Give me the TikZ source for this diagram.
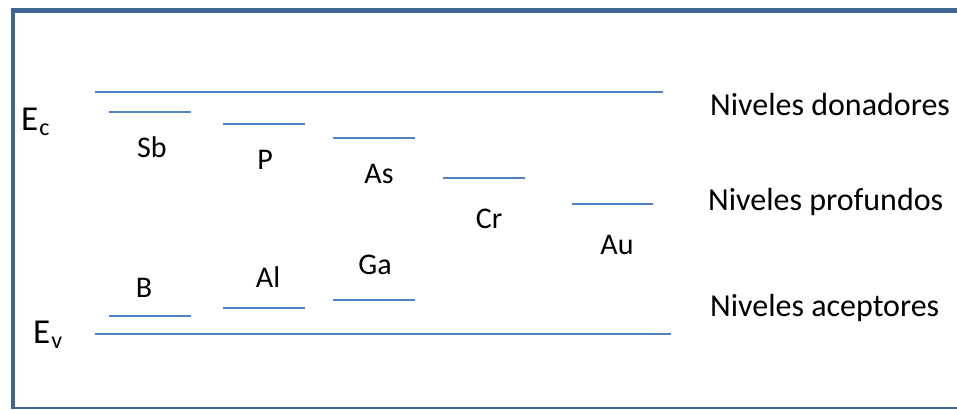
\documentclass[tikz,border=0pt]{standalone}
\usepackage{fontspec}
\setmainfont{Carlito}
\definecolor{framecol}{HTML}{3F6593}
\definecolor{levelcol}{HTML}{4F81C4}
\tikzset{
  levelline/.style={draw=levelcol, line width=2pt},
  elem/.style={anchor=base, inner sep=0pt, font=\fontsize{30}{36}\selectfont},
  side/.style={anchor=base west, inner sep=0pt, font=\fontsize{32}{38}\selectfont},
  band/.style={anchor=base west, inner sep=0pt, font=\fontsize{35}{40}\selectfont},
}
\newcommand{\bandsub}[1]{\hspace{1pt}\raisebox{-5pt}{\fontsize{24}{26}\selectfont #1}}
\begin{document}
\begin{tikzpicture}[x=1pt, y=-1pt]
\useasboundingbox (0,0) rectangle (957,409);
% frame
\draw[framecol, line width=4.5pt] (13,409) -- (13,10.5) -- (957,10.5);
\draw[framecol, line width=2pt] (13,408) -- (957,408);
% band edges
\coordinate (ec1) at (95,92);  \coordinate (ec2) at (663,92);
\coordinate (ev1) at (95,334); \coordinate (ev2) at (671,334);
\draw[levelline] (ec1) -- (ec2);
\draw[levelline] (ev1) -- (ev2);
% donor levels
\coordinate (sb1) at (109,112); \coordinate (sb2) at (191,112);
\coordinate (p1) at (223,124);  \coordinate (p2) at (305,124);
\coordinate (as1) at (333,138); \coordinate (as2) at (415,138);
\draw[levelline] (sb1) -- (sb2);
\draw[levelline] (p1) -- (p2);
\draw[levelline] (as1) -- (as2);
% deep levels
\coordinate (cr1) at (443,178); \coordinate (cr2) at (525,178);
\coordinate (au1) at (572,204); \coordinate (au2) at (653,204);
\draw[levelline] (cr1) -- (cr2);
\draw[levelline] (au1) -- (au2);
% acceptor levels
\coordinate (b1) at (109,316);  \coordinate (b2) at (191,316);
\coordinate (al1) at (223,308); \coordinate (al2) at (305,308);
\coordinate (ga1) at (333,300); \coordinate (ga2) at (415,300);
\draw[levelline] (b1) -- (b2);
\draw[levelline] (al1) -- (al2);
\draw[levelline] (ga1) -- (ga2);
% element labels
\node[elem] (Sb) at (152,157) {Sb};
\node[elem] (P)  at (265,169) {P};
\node[elem] (As) at (379,183) {As};
\node[elem] (Cr) at (489,228) {Cr};
\node[elem] (Au) at (617,254) {Au};
\node[elem] (B)  at (144,297) {B};
\node[elem] (Al) at (268,287) {Al};
\node[elem] (Ga) at (375,274) {Ga};
% band labels
\node[band] (Ec) at (21,130) {E\bandsub{c}};
\node[band] (Ev) at (33,343) {E\bandsub{v}};
% side labels
\node[side] (don) at (710,116) {Niveles donadores};
\node[side] (pro) at (708,210) {Niveles profundos};
\node[side] (ace) at (710,316) {Niveles aceptores};
\end{tikzpicture}
\end{document}
